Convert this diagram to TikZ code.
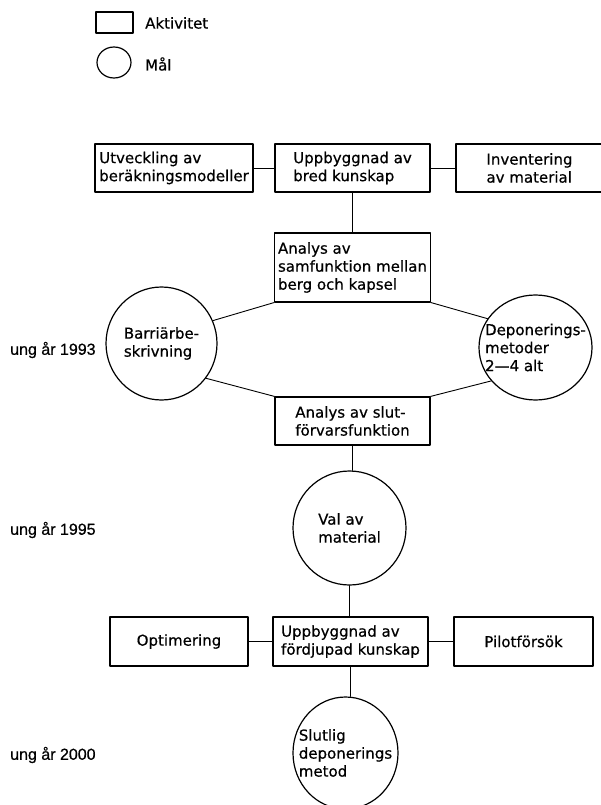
\documentclass[tikz,border=0pt]{standalone}
\usepackage{fontspec}
\setmainfont{DejaVu Sans}[FakeBold=0.6]
\newfontfamily\aarfont{Liberation Sans}[FakeBold=0.6]
\usetikzlibrary{shapes.geometric}

\begin{document}
\begin{tikzpicture}[x=1pt, y=-1pt, line cap=round, line join=round,
  txt/.style={font=\fontsize{15}{18}\selectfont, align=left, inner sep=0pt},
  aktiv/.style={draw, line width=1.2pt, txt, inner sep=2pt, minimum height=48pt},
  maal/.style={draw, ellipse, line width=1.2pt, inner sep=0pt},
  forb/.style={line width=0.9pt},
  aar/.style={txt, font=\aarfont\fontsize{16}{18}\selectfont, anchor=west}]

\useasboundingbox (0,0) rectangle (601,805);

% teckenforklaring
\node[aktiv, minimum width=37pt, minimum height=21pt] (legakt) at (114.5,22.5) {};
\node[maal, minimum width=34pt, minimum height=31pt] (legmaal) at (114,62.5) {};
\node[txt, anchor=west] (legakttxt) at (145,23) {Aktivitet};
\node[txt, anchor=west] (legmaaltxt) at (145,64) {Mål};

% aktiviteter
\node[aktiv, minimum width=158pt] (utv) at (174,168) {Utveckling av\\beräkningsmodeller};
\node[aktiv, minimum width=155pt] (bred) at (352.5,168) {Uppbyggnad av\\bred kunskap};
\node[aktiv, minimum width=147pt] (inv) at (529.5,168) {Inventering\\av material};
\node[aktiv, minimum width=156pt, minimum height=69pt] (ana1) at (352.5,267.5)
  {Analys av\\samfunktion mellan\\berg och kapsel};
\node[aktiv, minimum width=155pt] (ana2) at (352.5,421) {Analys av slut-\\förvarsfunktion};
\node[aktiv, minimum width=138pt, minimum height=49pt] (opt) at (179,641.5) {Optimering};
\node[aktiv, minimum width=155pt, minimum height=49pt] (fordj) at (350.5,641.5)
  {Uppbyggnad av\\fördjupad kunskap};
\node[aktiv, minimum width=139pt, minimum height=49pt] (pilot) at (523.5,641.5) {Pilotförsök};

% mal
\node[maal, minimum width=111pt, minimum height=113pt,
  label={[txt]center:{Barriärbe-\\skrivning}}] (barr) at (161.5,343.5) {};
\node[maal, minimum width=113pt, minimum height=105pt,
  label={[txt]center:{Deponerings-\\metoder\\2—4 alt}}] (depo) at (535.5,347.5) {};
\node[maal, minimum width=113pt, minimum height=114pt,
  label={[txt]center:{Val av\\material}}] (val) at (349.5,528) {};
\node[maal, minimum width=105pt, minimum height=112pt,
  label={[txt]center:{Slutlig\\deponerings\\metod}}] (slut) at (345.5,753) {};

% tidpunkter
\foreach \yr/\ypos in {1993/350, 1995/530, 2000/755}
  \node[aar] (ar\yr) at (10,\ypos) {ung år \yr};

% forbindelser
\draw[forb] (utv) -- (bred);
\draw[forb] (bred) -- (inv);
\draw[forb] (bred.south) -- (bred.south |- ana1.north);
\draw[forb] (ana1.south west) -- (barr.24);
\draw[forb] (ana2.north west) -- (barr.-38);
\draw[forb] (ana1.south east) -- (depo.149);
\draw[forb] (ana2.north east) -- (depo.-143);
\draw[forb] (ana2.south) -- (ana2.south |- val.north);
\draw[forb] (val.south) -- (val.south |- fordj.north);
\draw[forb] (opt) -- (fordj);
\draw[forb] (fordj) -- (pilot);
\draw[forb] (fordj.south) -- (fordj.south |- slut.north);

\end{tikzpicture}
\end{document}
